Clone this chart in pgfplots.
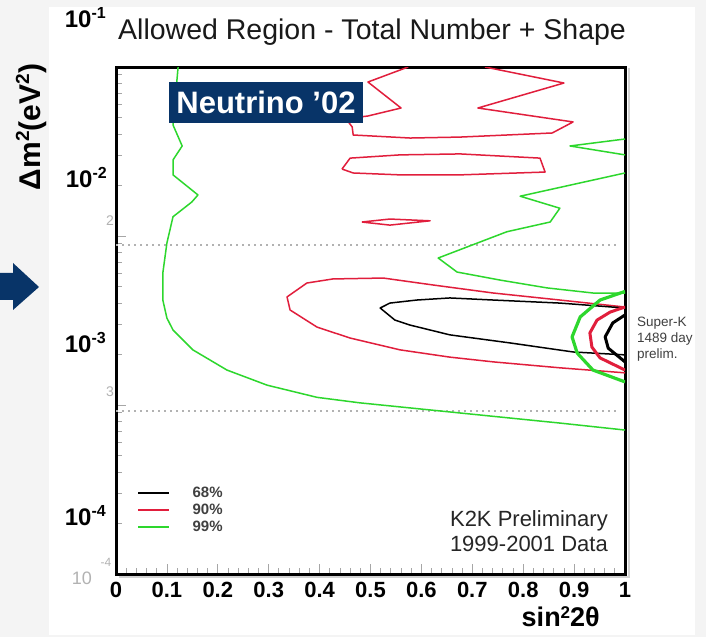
\documentclass[border=0pt]{standalone}
\usepackage{fontspec}
\setmainfont{Liberation Sans}
\usepackage{pgfplots}
\pgfplotsset{compat=1.18}
\definecolor{kgreen}{RGB}{45,215,45}
\definecolor{kred}{RGB}{225,30,60}
\definecolor{navy}{RGB}{8,52,104}
\definecolor{slidebg}{RGB}{244,244,244}

\begin{document}
\begin{tikzpicture}
% slide background, 1bp = 1px
\fill[slidebg] (0,0) rectangle (706bp,637bp);
\useasboundingbox (0,0) rectangle (706bp,637bp);
\fill[white] (49bp,2bp) rectangle (695bp,630bp);
\fill[navy] (0bp,364bp) -- (13bp,364bp) -- (13bp,374bp) -- (39bp,350bp) -- (13bp,327bp) -- (13bp,337bp) -- (0bp,337bp) -- cycle;

% old axis labels, half hidden
\node[text=gray!60, font=\fontsize{14bp}{14bp}\selectfont] at (110bp,416bp) {2};
\node[text=gray!60, font=\fontsize{14bp}{14bp}\selectfont] at (110bp,245bp) {3};
\node[text=gray!60, font=\fontsize{12bp}{12bp}\selectfont] at (106bp,75bp) {-4};
\node[text=gray!60, font=\fontsize{18bp}{18bp}\selectfont] at (82bp,59bp) {10};

\draw[gray!35, line width=2bp] (629bp,569bp) -- (629bp,60bp) -- (119bp,60bp);

\begin{axis}[
  at={(116bp,63bp)}, anchor=south west, scale only axis,
  width=509bp, height=507bp,
  xmin=0, xmax=1, ymin=1e-4, ymax=1e-1, ymode=log,
  axis line style={line width=3bp},
  xtick={0,0.1,0.2,0.3,0.4,0.5,0.6,0.7,0.8,0.9,1},
  xticklabels={0,0.1,0.2,0.3,0.4,0.5,0.6,0.7,0.8,0.9,1},
  minor x tick num=4,
  xtick pos=left, ytick pos=left,
  yticklabels={},
  tick style={gray!70, line width=0.8bp},
  major tick length=10bp, minor tick length=6bp,
  xticklabel style={font=\fontsize{22bp}{24bp}\selectfont\bfseries, yshift=-5bp},
  legend style={at={(0.041,0.172)}, anchor=north west, draw=none, fill=none,
    inner sep=0pt, row sep=5bp,
    font=\fontsize{15bp}{15bp}\selectfont\bfseries\color{black!75},
    nodes={inner sep=0pt},
    /tikz/every odd column/.append style={column sep=22bp}},
  legend cell align=left,
  legend image code/.code={\draw[#1] (0bp,0bp) -- (31bp,0bp);},
]
% dotted guide lines
\addplot[gray!60, line width=2bp, dash pattern=on 2bp off 4bp, forget plot] coordinates {(0,0.00885) (0.984,0.00885)};
\addplot[gray!60, line width=2bp, dash pattern=on 2bp off 4bp, forget plot] coordinates {(0,0.00092) (0.984,0.00092)};

% 99% CL
\addplot[kgreen, line width=1.5bp, line join=round, forget plot] coordinates {
(0.122,0.1) (0.118,0.0731) (0.112,0.0454) (0.130,0.0341) (0.112,0.0282) (0.112,0.0230)
(0.161,0.0175) (0.149,0.0159) (0.112,0.0130) (0.100,0.00909) (0.092,0.00604) (0.092,0.00418)
(0.100,0.00327) (0.112,0.00278) (0.151,0.00212) (0.218,0.00161) (0.297,0.00131) (0.395,0.00111)
(0.479,0.00103) (0.676,0.000897) (0.872,0.000782) (1.0,0.000711)};
\addplot[kgreen, line width=1.5bp, line join=round, forget plot] coordinates {
(1,0.0375) (0.892,0.0341) (1,0.0302)};
\addplot[kgreen, line width=1.5bp, line join=round, forget plot] coordinates {
(1,0.0236) (0.794,0.0172) (0.872,0.0146) (0.853,0.0121) (0.768,0.0106) (0.633,0.00741)
(0.670,0.00612) (0.754,0.00549) (0.847,0.00493) (0.937,0.0046) (1,0.0046)};

% 90% CL
\addplot[kred, line width=1.5bp, line join=round, forget plot] coordinates {
(1,0.0038) (0.872,0.00418) (0.741,0.0046) (0.623,0.00513) (0.525,0.00564) (0.426,0.00557)
(0.375,0.00527) (0.336,0.00436) (0.342,0.00365) (0.395,0.00289) (0.46,0.00249) (0.558,0.00212)
(0.656,0.00192) (0.741,0.0018) (0.872,0.00166) (1,0.00155)};
\addplot[kred, line width=1.5bp, line join=round, forget plot] coordinates {
(0.574,0.1) (0.495,0.0815) (0.560,0.0572) (0.495,0.0513) (0.44,0.049)};
\addplot[kred, line width=1.5bp, line join=round, forget plot] coordinates {
(0.725,0.1) (0.880,0.0804) (0.711,0.0572) (0.898,0.0473) (0.857,0.0407) (0.676,0.0385)
(0.578,0.038) (0.466,0.0396) (0.464,0.0442) (0.455,0.048)};
\addplot[kred, line width=1.5bp, line join=round, forget plot] coordinates {
(0.444,0.0249) (0.46,0.0289) (0.558,0.0302) (0.676,0.0306) (0.833,0.0289) (0.843,0.0239)
(0.676,0.023) (0.558,0.023) (0.466,0.0236) (0.444,0.0249)};
\addplot[kred, line width=1.5bp, line join=round, forget plot] coordinates {
(0.483,0.0121) (0.538,0.0126) (0.617,0.0123) (0.538,0.0116) (0.483,0.0121)};

% 68% CL
\addplot[black, line width=1.5bp, line join=round, forget plot] coordinates {
(1,0.00375) (0.872,0.00401) (0.741,0.00418) (0.656,0.0043) (0.591,0.00418) (0.538,0.00401)
(0.519,0.00375) (0.548,0.00318) (0.578,0.00297) (0.656,0.0026) (0.774,0.00233) (0.898,0.00206)
(1,0.00198)};

% Super-K 1489 day
\addplot[kgreen, line width=3.2bp, line join=round, forget plot] coordinates {
(1,0.0047) (0.951,0.00418) (0.912,0.00332) (0.896,0.00253) (0.906,0.00203) (0.937,0.00161) (1,0.00137)};
\addplot[kred, line width=3bp, line join=round, forget plot] coordinates {
(1,0.0038) (0.971,0.00355) (0.945,0.00318) (0.931,0.00267) (0.935,0.0022) (0.951,0.0019) (1,0.00161)};
\addplot[black, line width=3bp, line join=round, forget plot] coordinates {
(1,0.00341) (0.976,0.00306) (0.961,0.00253) (0.967,0.00217) (1,0.0018)};

\addlegendimage{black, line width=2.5bp}
\addlegendentry{68\%}
\addlegendimage{kred, line width=2bp}
\addlegendentry{90\%}
\addlegendimage{kgreen, line width=2.5bp}
\addlegendentry{99\%}
\end{axis}

% slide overlays
\fill[navy] (169bp,555bp) rectangle (363bp,514bp);
\node[text=white, font=\fontsize{31bp}{31bp}\selectfont\bfseries] at (266bp,534.5bp) {Neutrino ’02};

\node[anchor=base west, inner sep=0pt, text=black!90, font=\fontsize{28.5bp}{30bp}\selectfont] at (118bp,597.5bp) {Allowed Region - Total Number + Shape};

\node[anchor=base east, inner sep=0pt, text=black!85, font=\fontsize{22bp}{24bp}\selectfont] at (608bp,110bp) {K2K Preliminary};
\node[anchor=base east, inner sep=0pt, text=black!85, font=\fontsize{22bp}{24bp}\selectfont] at (608bp,85bp) {1999-2001 Data};

\node[anchor=north west, align=left, inner sep=0pt, text=black!75, font=\fontsize{13.5bp}{16bp}\selectfont] at (637bp,320bp) {Super-K\\1489 day\\prelim.};

\node[anchor=base east, inner sep=0pt, font=\fontsize{24bp}{24bp}\selectfont\bfseries] at (106bp,609bp) {10\raisebox{9bp}{\fontsize{16bp}{16bp}\selectfont -1}};
\node[anchor=base east, inner sep=0pt, font=\fontsize{24bp}{24bp}\selectfont\bfseries] at (107bp,449bp) {10\raisebox{9bp}{\fontsize{16bp}{16bp}\selectfont -2}};
\node[anchor=base east, inner sep=0pt, font=\fontsize{24bp}{24bp}\selectfont\bfseries] at (106bp,284bp) {10\raisebox{9bp}{\fontsize{16bp}{16bp}\selectfont -3}};
\node[anchor=base east, inner sep=0pt, font=\fontsize{24bp}{24bp}\selectfont\bfseries] at (106bp,111bp) {10\raisebox{9bp}{\fontsize{16bp}{16bp}\selectfont -4}};

\node[rotate=90, inner sep=0pt, font=\fontsize{30bp}{30bp}\selectfont\bfseries] at (31bp,510bp) {Δm\raisebox{11bp}{\fontsize{19bp}{19bp}\selectfont 2}(eV\raisebox{11bp}{\fontsize{19bp}{19bp}\selectfont 2})};
\node[anchor=base east, inner sep=0pt, font=\fontsize{27bp}{27bp}\selectfont\bfseries] at (600bp,11bp) {sin\raisebox{8bp}{\fontsize{17bp}{17bp}\selectfont 2}2θ};
\end{tikzpicture}
\end{document}
